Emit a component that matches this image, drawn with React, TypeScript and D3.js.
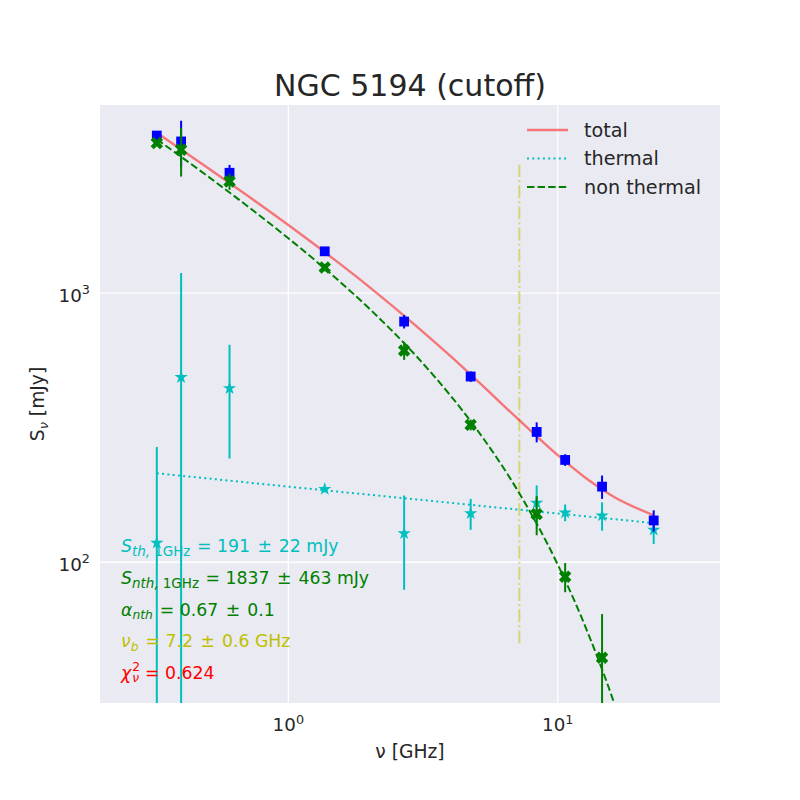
import React from 'react';
import * as d3 from 'd3';

// ---- data ----
const freq = [0.325, 0.4, 0.605, 1.365, 2.69, 4.75, 8.35, 10.65, 14.6, 22.7];
const totalFlux = [3850, 3660, 2800, 1430, 784, 490, 305, 240, 191, 143];
const totalErr = [80, 710, 195, 30, 45, 22, 26, 12, 19, 13];
const thermalFlux = [118, 487, 443, 187, 128, 152, 166, 153, 149, 132];
const thermalErr = [150, 700, 200, 5, 49, 20, 27, 11, 18, 15];
const nonthermalFreq = [0.325, 0.4, 0.605, 1.365, 2.69, 4.75, 8.35, 10.65, 14.6];
const nonthermalFlux = [3610, 3410, 2600, 1245, 612, 324, 151, 88.4, 44.2];
const nonthermalErr = [80, 700, 180, 40, 47, 15, 25, 11, 20];

// model curves
const modelFreq = [0.325, 0.5, 0.7, 1, 1.5, 2, 3, 4, 5, 7, 10, 13, 16, 22.7];
const modelTotal = [3943, 2932, 2315, 1790, 1320, 1053, 751, 583, 475, 346, 250, 202, 176, 149.5];
const modelThermal = [214, 205, 198, 191, 183.4, 178.2, 171.1, 166.3, 162.6, 157.2, 151.7, 147.8, 144.8, 139.8];
const modelNonthermal = [3729, 2727, 2117, 1599, 1137, 875, 580, 416, 312, 189, 98, 54, 31, 9.7];

const nuBreak = 7.2;
const breakRange = [50, 3000];

const xTicks = [1, 10];
const xTickExp = ['0', '1'];
const yTicks = [100, 1000];
const yTickExp = ['2', '3'];

const legendLabels = ['total', 'thermal', 'non thermal'];

const W = 800;
const H = 800;
const L = 100, R = 720, T = 105, B = 703;
const FONT = 'DejaVu Sans';
const TXT = '#262626';

function xMarker(cx: number, cy: number, a: number) {
  const t = a / 3;
  const pts: [number, number][] = [
    [t, t], [a, t], [a, -t], [t, -t], [t, -a], [-t, -a], [-t, -t], [-a, -t], [-a, t], [-t, t], [-t, a], [t, a],
  ];
  const c = Math.SQRT1_2;
  const p = d3.path();
  pts.forEach(([px, py], i) => {
    const rx = (px - py) * c + cx;
    const ry = (px + py) * c + cy;
    if (i === 0) p.moveTo(rx, ry); else p.lineTo(rx, ry);
  });
  p.closePath();
  return p.toString();
}

function starMarker(cx: number, cy: number, r: number) {
  const ri = r * 0.381966;
  const p = d3.path();
  for (let i = 0; i < 10; i++) {
    const ang = -Math.PI / 2 + (i * Math.PI) / 5;
    const rr = i % 2 === 0 ? r : ri;
    const px = cx + rr * Math.cos(ang);
    const py = cy + rr * Math.sin(ang);
    if (i === 0) p.moveTo(px, py); else p.lineTo(px, py);
  }
  p.closePath();
  return p.toString();
}

export default function App() {
  const x = d3.scaleLog().domain([0.2, 40]).range([L, R]);
  const y = d3.scaleLog().domain([30, 5000]).range([B, T]);

  const line = d3
    .line<[number, number]>()
    .x((d) => x(d[0]))
    .y((d) => y(Math.max(d[1], 1)))
    .curve(d3.curveMonotoneX);

  const zip = (a: number[], b: number[]) => a.map((v, i) => [v, b[i]] as [number, number]);

  const errBar = (f: number[], v: number[], e: number[], color: string) =>
    f.map((fv, i) => {
      const lo = Math.max(v[i] - e[i], 1e-3);
      const hi = v[i] + e[i];
      return (
        <line key={i} x1={x(fv)} x2={x(fv)} y1={y(lo)} y2={y(hi)} stroke={color} strokeWidth={2} />
      );
    });

  const sq = d3.symbol().type(d3.symbolSquare).size(9.8 * 9.8)();

  const legendY = [130, 158.5, 187];

  const subBig = 13.5;
  const subSize = 12.3;
  const annSize = 17.3;

  const pm = (a: string, b: string) => (
    <>
      <tspan>{a}</tspan>
      <tspan dx={2}>{'\u00B1'}</tspan>
      <tspan dx={1.5}>{b}</tspan>
    </>
  );

  return (
    <svg width={W} height={H} style={{ position: 'absolute', left: 0, top: 0, background: '#fff' }} fontFamily={FONT}>
      <defs>
        <clipPath id="plotclip">
          <rect x={L} y={T} width={R - L} height={B - T} />
        </clipPath>
      </defs>
      <rect x={0} y={0} width={W} height={H} fill="#ffffff" />
      <rect x={L} y={T} width={R - L} height={B - T} fill="#EAEAF2" />
      {/* grid */}
      {xTicks.map((t) => (
        <line key={'gx' + t} x1={x(t)} x2={x(t)} y1={T} y2={B} stroke="#fff" strokeWidth={1.3} />
      ))}
      {yTicks.map((t) => (
        <line key={'gy' + t} x1={L} x2={R} y1={y(t)} y2={y(t)} stroke="#fff" strokeWidth={1.3} />
      ))}

      <g clipPath="url(#plotclip)">
        {/* break frequency */}
        <line
          x1={x(nuBreak)} x2={x(nuBreak)} y1={y(breakRange[0])} y2={y(breakRange[1])}
          stroke="#BFBF00" strokeOpacity={0.5} strokeWidth={2} strokeDasharray="12.8,3.2,2,3.2"
        />
        {/* model lines */}
        <path d={line(zip(modelFreq, modelTotal)) || ''} fill="none" stroke="red" strokeOpacity={0.5} strokeWidth={2.4} />
        <path d={line(zip(modelFreq, modelThermal)) || ''} fill="none" stroke="#00BFBF" strokeWidth={2} strokeDasharray="2,3.3" />
        <path d={line(zip(modelFreq, modelNonthermal)) || ''} fill="none" stroke="#008000" strokeWidth={2} strokeDasharray="7.4,3.2" />

        {/* thermal */}
        {errBar(freq, thermalFlux, thermalErr, '#00BFBF')}
        {freq.map((f, i) => (
          <path key={'st' + i} d={starMarker(x(f), y(thermalFlux[i]), 7)} fill="#00BFBF" />
        ))}
        {/* total */}
        {errBar(freq, totalFlux, totalErr, '#0000FF')}
        {freq.map((f, i) => (
          <path key={'sq' + i} d={sq || ''} transform={`translate(${x(f)},${y(totalFlux[i])})`} fill="#0000FF" />
        ))}
        {/* non-thermal */}
        {errBar(nonthermalFreq, nonthermalFlux, nonthermalErr, '#008000')}
        {nonthermalFreq.map((f, i) => (
          <path key={'x' + i} d={xMarker(x(f), y(nonthermalFlux[i]), 6.6)} fill="#008000" />
        ))}
      </g>

      {/* tick labels */}
      {xTicks.map((t, i) => (
        <text key={'xt' + t} x={x(t)} y={731} textAnchor="middle" fontSize={18.3} fill={TXT}>
          10<tspan fontSize={12.8} dy={-7.4}>{xTickExp[i]}</tspan>
        </text>
      ))}
      {yTicks.map((t, i) => (
        <text key={'yt' + t} x={90} y={y(t) + 8.4} textAnchor="end" fontSize={18.3} fill={TXT}>
          10<tspan fontSize={12.8} dy={-7.4}>{yTickExp[i]}</tspan>
        </text>
      ))}

      {/* axis labels */}
      <text x={(L + R) / 2} y={758} textAnchor="middle" fontSize={18.7} fill={TXT} style={{ whiteSpace: 'pre' }}>
        ν [GHz]
      </text>
      <text
        transform={`translate(44,${(T + B) / 2}) rotate(-90)`}
        textAnchor="middle" fontSize={18.7} fill={TXT} style={{ whiteSpace: 'pre' }}
      >
        S<tspan fontSize={13} dy={3.5} fontStyle="italic">ν</tspan>
        <tspan dy={-3.5}>{' [mJy]'}</tspan>
      </text>

      {/* title */}
      <text x={(L + R) / 2} y={96} textAnchor="middle" fontSize={30} fill={TXT}>
        NGC 5194 (cutoff)
      </text>

      {/* legend */}
      <line x1={527} x2={568} y1={legendY[0]} y2={legendY[0]} stroke="red" strokeOpacity={0.5} strokeWidth={2.4} />
      <line x1={527} x2={568} y1={legendY[1]} y2={legendY[1]} stroke="#00BFBF" strokeWidth={2} strokeDasharray="2,3.3" />
      <line x1={527} x2={568} y1={legendY[2]} y2={legendY[2]} stroke="#008000" strokeWidth={2} strokeDasharray="7.4,3.2" />
      {legendLabels.map((lab, i) => (
        <text key={lab} x={584} y={legendY[i] + 6.9} fontSize={19.2} fill={TXT}>
          {lab}
        </text>
      ))}

      {/* annotations */}
      <g fontSize={annSize} style={{ whiteSpace: 'pre' }}>
        <text x={121} y={552} fill="#00BFBF">
          <tspan fontStyle="italic">S</tspan>
          <tspan fontSize={subBig} dy={3.5} fontStyle="italic">th,</tspan>
          <tspan fontSize={subBig} dx={4}>1GHz</tspan>
          <tspan dy={-3.5} dx={1}>{' = '}</tspan>
          {pm('191 ', ' 22 mJy')}
        </text>
        <text x={121} y={584} fill="#008000">
          <tspan fontStyle="italic">S</tspan>
          <tspan fontSize={subBig} dy={3.5} fontStyle="italic">nth,</tspan>
          <tspan fontSize={subBig} dx={4}>1GHz</tspan>
          <tspan dy={-3.5} dx={1}>{' = '}</tspan>
          {pm('1837 ', ' 463 mJy')}
        </text>
        <text x={121} y={615.5} fill="#008000">
          <tspan fontStyle="italic">α</tspan>
          <tspan fontSize={subSize} dy={3.5} fontStyle="italic">nth</tspan>
          <tspan dy={-3.5} dx={1.5}>{' = '}</tspan>
          {pm('0.67 ', ' 0.1')}
        </text>
        <text x={121} y={647} fill="#BFBF00">
          <tspan fontStyle="italic">ν</tspan>
          <tspan fontSize={subSize} dy={3.5} fontStyle="italic">b</tspan>
          <tspan dy={-3.5} dx={1.5}>{' = '}</tspan>
          {pm('7.2 ', ' 0.6 GHz')}
        </text>
        <text x={121} y={678.5} fill="#FF0000">
          <tspan fontStyle="italic">χ</tspan>
          <tspan fontSize={subSize} dy={-7.5} dx={1}>2</tspan>
          <tspan fontSize={subSize} dx={-7.8} dy={11} fontStyle="italic">ν</tspan>
          <tspan dy={-3.5} dx={0.5}>{' = 0.624'}</tspan>
        </text>
      </g>
    </svg>
  );
}
